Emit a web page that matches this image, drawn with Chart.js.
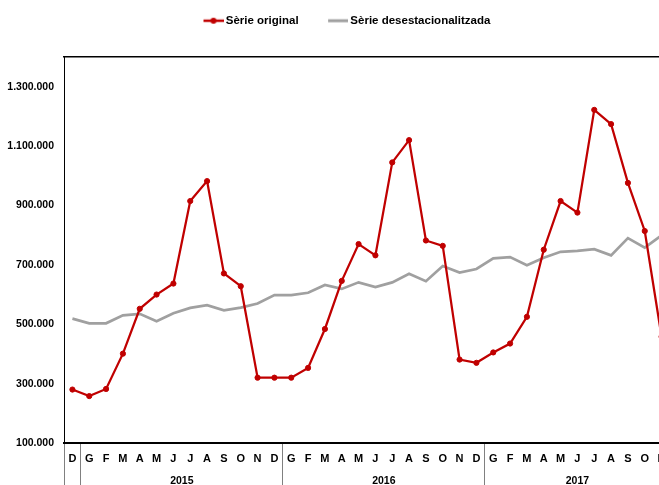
<!DOCTYPE html>
<html>
<head>
<meta charset="utf-8">
<script src="https://cdn.jsdelivr.net/npm/chart.js@4.4.0/dist/chart.umd.min.js"></script>
<style>
html, body { margin: 0; padding: 0; background: #fff; overflow: hidden; width: 659px; height: 485px; }
#wrap { position: absolute; left: 0; top: 0; width: 680px; height: 485px; }
</style>
</head>
<body>
<div id="wrap"><canvas id="c" width="680" height="485"></canvas></div>
<script>
// ---- data ----
const months = ['D','G','F','M','A','M','J','J','A','S','O','N','D',
                'G','F','M','A','M','J','J','A','S','O','N','D',
                'G','F','M','A','M','J','J','A','S','O','N'];
const serieOriginal = [280000, 258000, 282000, 401000, 552000, 600000, 637000, 915000, 982000, 671000, 628000, 320000, 320000,
                       320000, 353000, 484000, 646000, 770000, 732000, 1045000, 1120000, 782000, 764000, 381000, 370000,
                       405000, 435000, 525000, 751000, 915000, 876000, 1222000, 1174000, 976000, 814000, 458000];
const serieDesest = [519000, 503000, 503000, 530000, 535000, 510000, 537000, 555000, 564000, 547000, 556000, 570000, 598000,
                     598000, 606000, 632000, 619000, 641000, 625000, 641000, 670000, 645000, 696000, 674000, 686000,
                     722000, 726000, 699000, 724000, 744000, 747000, 753000, 732000, 790000, 758000, 799000];
const yearLabels = ['2015', '2016', '2017'];
const yearFirstIndex = [1, 13, 25];
const yearLastIndex = [12, 24, 35];
const separatorIndex = [0, 1, 13, 25, 36];
const yTicks = [100000, 300000, 500000, 700000, 900000, 1100000, 1300000];
const yMin = 100000, yMax = 1400000;
const seriesNames = ['Sèrie original', 'Sèrie desestacionalitzada'];

// ---- style ----
const FONT = "'Liberation Sans', Arial, sans-serif";
const RED = '#C00000', GRAY = '#A0A0A0';
Chart.defaults.font.family = FONT;
Chart.defaults.color = '#000';

function fmt(v) { return String(Math.round(v)).replace(/\B(?=(\d{3})+(?!\d))/g, '.'); }

function marker(color, lw, dot) {
  const c = document.createElement('canvas');
  c.width = 38; c.height = 10;
  const g = c.getContext('2d');
  g.strokeStyle = color; g.lineWidth = lw;
  g.beginPath(); g.moveTo(18, 5); g.lineTo(38, 5); g.stroke();
  if (dot) { g.fillStyle = color; g.beginPath(); g.arc(28, 5, 3, 0, Math.PI * 2); g.fill(); }
  return c;
}
const markers = [marker(RED, 2.5, true), marker(GRAY, 3, false)];

const legendShift = {
  id: 'legendShift',
  afterLayout(chart) { if (chart.legend) chart.legend.left = 174; }
};

const tickFont = { family: FONT, size: 10.5, weight: 'bold' };
const monthFont = { family: FONT, size: 11, weight: 'bold' };

new Chart(document.getElementById('c'), {
  type: 'line',
  data: {
    labels: months,
    datasets: [
      { label: seriesNames[0], data: serieOriginal, borderColor: RED, backgroundColor: RED,
        borderWidth: 2.25, pointRadius: 2.6, pointBorderWidth: 1, pointBackgroundColor: RED,
        pointBorderColor: RED, tension: 0, fill: false },
      { label: seriesNames[1], data: serieDesest, borderColor: GRAY, backgroundColor: GRAY,
        borderWidth: 2.7, pointRadius: 0, tension: 0, fill: false }
    ]
  },
  options: {
    responsive: false,
    animation: false,
    devicePixelRatio: 1,
    layout: { padding: { left: 0, right: 10, top: 0, bottom: 0 } },
    plugins: {
      tooltip: { enabled: false },
      legend: {
        position: 'top', align: 'start',
        labels: {
          usePointStyle: true, pointStyleWidth: 31, padding: 15,
          font: { family: FONT, size: 11.5, weight: 'bold' }, color: '#000',
          generateLabels: (chart) => chart.data.datasets.map((ds, i) => ({
            text: ds.label, pointStyle: markers[i], fillStyle: ds.borderColor,
            strokeStyle: ds.borderColor, lineWidth: 0, hidden: false, datasetIndex: i, fontColor: '#000'
          }))
        }
      }
    },
    scales: {
      y: {
        min: yMin, max: yMax,
        afterBuildTicks: s => { s.ticks = yTicks.map(v => ({ value: v })); },
        afterFit: s => { s.width = 64; },
        grid: { display: false, drawTicks: false },
        border: { display: true, color: '#000', width: 1 },
        ticks: { padding: 10, font: tickFont, color: '#000', callback: v => fmt(v) }
      },
      x: {
        type: 'category', position: 'bottom', offset: true, weight: 0,
        afterFit: s => { s.height = 21; },
        grid: {
          display: true, drawOnChartArea: false, drawTicks: true, tickLength: 42, offset: true,
          color: ctx => separatorIndex.includes(ctx.index) ? '#808080' : 'rgba(0,0,0,0)', lineWidth: 1
        },
        border: { display: true, color: '#000', width: 2 },
        ticks: { autoSkip: false, maxRotation: 0, minRotation: 0, padding: -33, font: monthFont, color: '#000' }
      },
      x2: {
        type: 'linear', position: 'bottom', weight: 1, min: -0.5, max: months.length - 0.5,
        afterBuildTicks: s => { s.ticks = yearLabels.map((l, i) => ({ value: (yearFirstIndex[i] + yearLastIndex[i]) / 2 })); },
        afterFit: s => { s.height = 21; },
        grid: { display: false, drawTicks: false },
        border: { display: false },
        ticks: { autoSkip: false, maxRotation: 0, minRotation: 0, padding: 11, font: tickFont, color: '#000',
                 callback: (v, i) => yearLabels[i] }
      },
      x3: {
        type: 'category', position: 'top', offset: true,
        afterFit: s => { s.height = 20.5; },
        grid: { display: false, drawTicks: false },
        ticks: { display: false },
        border: { display: true, color: '#000', width: 1.5 }
      }
    }
  },
  plugins: [legendShift]
});
</script>
</body>
</html>
